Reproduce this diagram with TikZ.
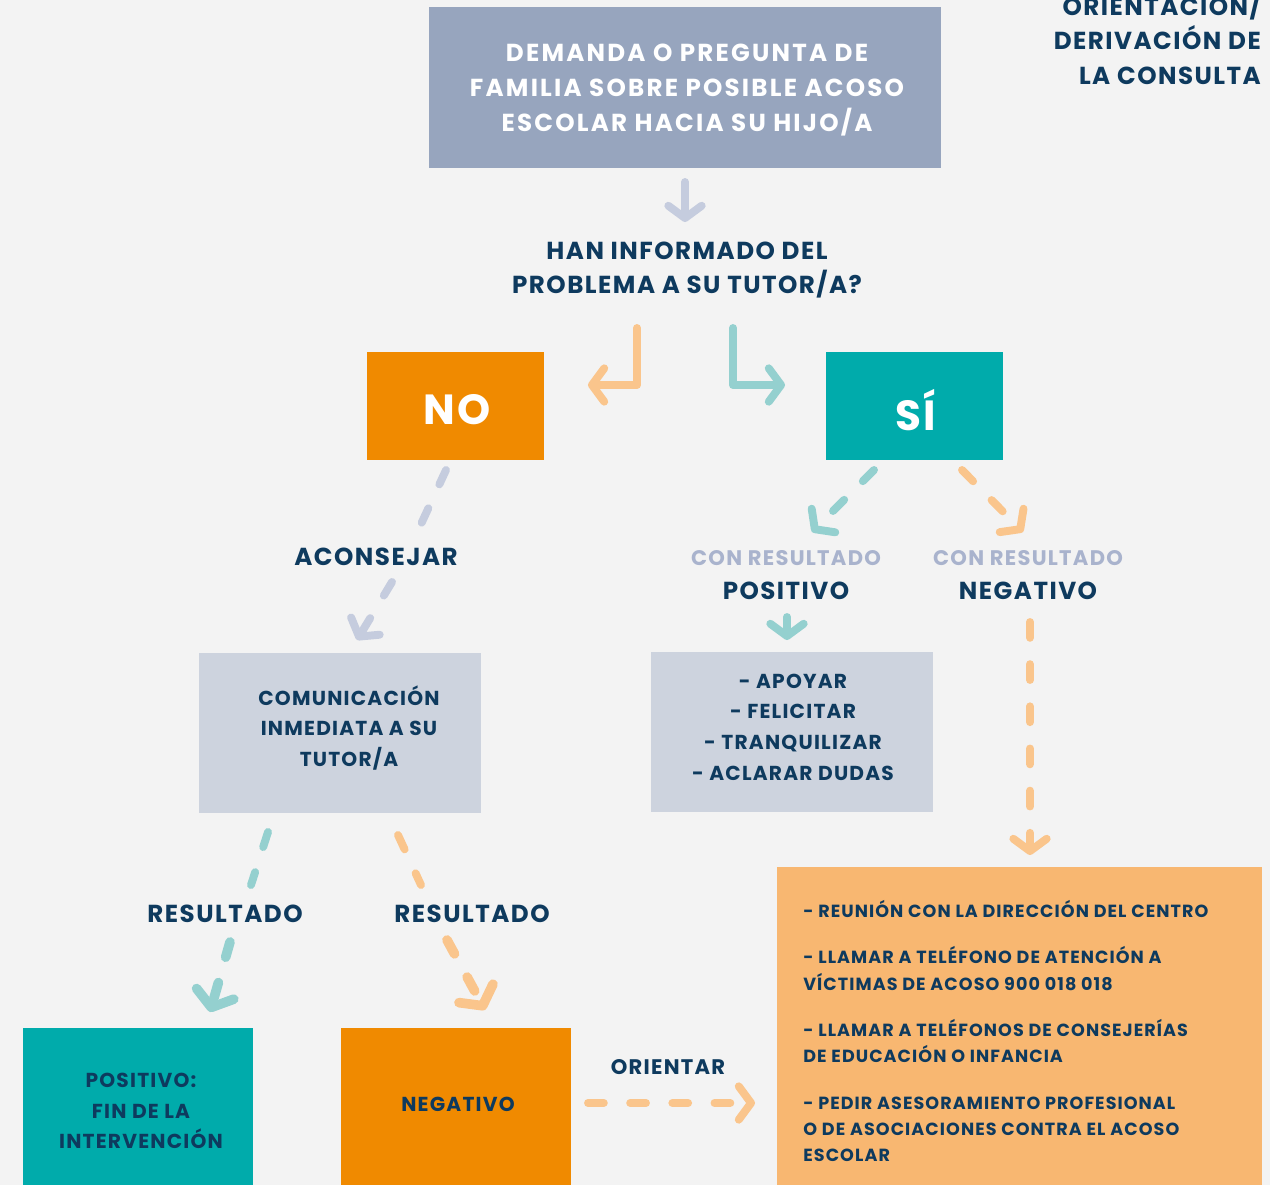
\documentclass[tikz,border=0pt]{standalone}
\usepackage{fontspec}
\setmainfont{Poppins}[LetterSpace=6]
\usetikzlibrary{arrows.meta}
\definecolor{fondo}{HTML}{F3F3F3}
\definecolor{azul}{HTML}{0E3A5E}
\definecolor{grisazul}{HTML}{97A5BE}
\definecolor{grisclaro}{HTML}{CDD3DE}
\definecolor{grisflecha}{HTML}{C5CCDE}
\definecolor{grisletra}{HTML}{A9B3CD}
\definecolor{naranja}{HTML}{F08A00}
\definecolor{naranjaclaro}{HTML}{FAC58C}
\definecolor{naranjacaja}{HTML}{F8B771}
\definecolor{turquesa}{HTML}{00ABAB}
\definecolor{turquesaclaro}{HTML}{94D0CF}
\newcommand\tam[2]{\fontsize{#1}{#2}\selectfont}

\begin{document}
\begin{tikzpicture}[x=0.02cm,y=-0.02cm,
  caja/.style={rectangle,inner sep=0pt},
  texto/.style={align=center,inner sep=0pt,font=\bfseries},
  rotulo/.style={align=center,text=azul,font=\bfseries\tam{14}{19.8}},
  flecha/.style={line width=4.5pt,line cap=round,line join=round,
    -{Straight Barb[length=7pt,width=19pt,round]}},
  tramo/.style={line width=4.5pt,line cap=round,dash pattern=on 9pt off 15pt},
  guion/.style={flecha,dash pattern=on 9pt off 15pt},
  guiongrueso/.style={guion,line width=5.5pt,-{Straight Barb[length=8pt,width=22pt,round]}}]

\useasboundingbox (0,0) rectangle (1270,1185);
\fill[fondo] (0,0) rectangle (1270,1185);
\clip (0,0) rectangle (1270,1185);

% cajas
\path (685,87.5) node[caja,fill=grisazul,minimum width=10.24cm,minimum height=3.22cm](demanda){};
\path (455.5,406) node[caja,fill=naranja,minimum width=3.54cm,minimum height=2.16cm](no){};
\path (914.5,406) node[caja,fill=turquesa,minimum width=3.54cm,minimum height=2.16cm](si){};
\path (340,733) node[caja,fill=grisclaro,minimum width=5.64cm,minimum height=3.2cm](comunica){};
\path (792,732) node[caja,fill=grisclaro,minimum width=5.64cm,minimum height=3.2cm](apoyar){};
\path (1019.5,1026) node[caja,fill=naranjacaja,minimum width=9.7cm,minimum height=6.36cm](acciones){};
\path (138,1106.5) node[caja,fill=turquesa,minimum width=4.6cm,minimum height=3.14cm](positivo){};
\path (456,1106.5) node[caja,fill=naranja,minimum width=4.6cm,minimum height=3.14cm](negativo){};

% textos de las cajas
\path (687,90) node[texto,text=white,font=\bfseries\tam{14}{19.8}\addfontfeature{LetterSpace=9}](demandatxt)
  {DEMANDA O PREGUNTA DE\\FAMILIA SOBRE POSIBLE ACOSO\\ESCOLAR HACIA SU HIJO/A};
\path (457,410) node[texto,text=white,font=\bfseries\tam{24}{26}](notxt){NO};
\path (916,410) node[texto,text=white,font=\bfseries\tam{24}{26}](sitxt){SÍ};
\path (349,728) node[texto,text=azul,font=\bfseries\tam{11.5}{17.5}](comunicatxt)
  {COMUNICACIÓN\\INMEDIATA A SU\\TUTOR/A};
\path (793,727) node[texto,text=azul,font=\bfseries\tam{11.5}{17.5}](apoyartxt)
  {- APOYAR\\- FELICITAR\\- TRANQUILIZAR\\- ACLARAR DUDAS};
\path (803,1031) node[texto,text=azul,anchor=west,align=left,font=\bfseries\tam{10}{14.9}](accionestxt){%
  - REUNIÓN CON LA DIRECCIÓN DEL CENTRO\\[11.6pt]
  - LLAMAR A TELÉFONO DE ATENCIÓN A\\VÍCTIMAS DE ACOSO 900 018 018\\[11.6pt]
  - LLAMAR A TELÉFONOS DE CONSEJERÍAS\\DE EDUCACIÓN O INFANCIA\\[11.6pt]
  - PEDIR ASESORAMIENTO PROFESIONAL\\O DE ASOCIACIONES CONTRA EL ACOSO\\ESCOLAR};
\path (141,1111) node[texto,text=azul,font=\bfseries\tam{11.5}{17.3}](positivotxt)
  {POSITIVO:\\FIN DE LA\\INTERVENCIÓN};
\path (458,1104) node[texto,text=azul,font=\bfseries\tam{11.5}{17.3}](negativotxt){NEGATIVO};

% rotulos
\path (1267,38) node[rotulo,anchor=east,align=right](titulo){ORIENTACIÓN/\\DERIVACIÓN DE\\LA CONSULTA};
\path (687,270) node[rotulo](pregunta){HAN INFORMADO DEL\\PROBLEMA A SU TUTOR/A?};
\path (376,557) node[rotulo](aconsejar){ACONSEJAR};
\path (786,575) node[rotulo](conpos){{\color{grisletra}\tam{12}{19.8}CON RESULTADO}\\POSITIVO};
\path (1028,575) node[rotulo](conneg){{\color{grisletra}\tam{12}{19.8}CON RESULTADO}\\NEGATIVO};
\path (225,914) node[rotulo](resA){RESULTADO};
\path (472,914) node[rotulo](resB){RESULTADO};
\path (668,1067) node[rotulo,font=\bfseries\tam{12}{16}](orientar){ORIENTAR};

% puntos de las flechas
\coordinate (d1) at (685,182); \coordinate (d2) at (685,222);
\coordinate (n1) at (637,328); \coordinate (n2) at (588,385);
\coordinate (s1) at (733,328); \coordinate (s2) at (785,385);
\coordinate (a1) at (446,470); \coordinate (a2) at (416,535);
\coordinate (a3) at (392,582); \coordinate (a4) at (357,640);
\coordinate (p1) at (874,470); \coordinate (p2) at (812,532);
\coordinate (q1) at (962,470); \coordinate (q2) at (1023,532);
\coordinate (p3) at (787,617); \coordinate (p4) at (787,640);
\coordinate (q3) at (1030,622); \coordinate (q4) at (1030,855);
\coordinate (r1) at (268,832); \coordinate (r2) at (251,885);
\coordinate (r3) at (230,942); \coordinate (r4) at (210,1012);
\coordinate (t1) at (398,835); \coordinate (t2) at (421,885);
\coordinate (t3) at (447,940); \coordinate (t4) at (485,1010);
\coordinate (o1) at (588,1103); \coordinate (o2) at (755,1103);

% flechas
\draw[flecha,grisflecha] (d1) -- (d2);
\draw[flecha,naranjaclaro] (n1) |- (n2);
\draw[flecha,turquesaclaro] (s1) |- (s2);
\draw[tramo,grisflecha] (a1) -- (a2);
\draw[guion,grisflecha] (a3) -- (a4);
\draw[guion,turquesaclaro] (p1) -- (p2);
\draw[guion,naranjaclaro] (q1) -- (q2);
\draw[flecha,turquesaclaro] (p3) -- (p4);
\draw[guion,naranjaclaro] (q3) -- (q4);
\draw[tramo,turquesaclaro] (r1) -- (r2);
\draw[guiongrueso,turquesaclaro] (r3) -- (r4);
\draw[tramo,naranjaclaro] (t1) -- (t2);
\draw[guiongrueso,naranjaclaro] (t3) -- (t4);
\draw[guion,naranjaclaro] (o1) -- (o2);
\end{tikzpicture}
\end{document}
